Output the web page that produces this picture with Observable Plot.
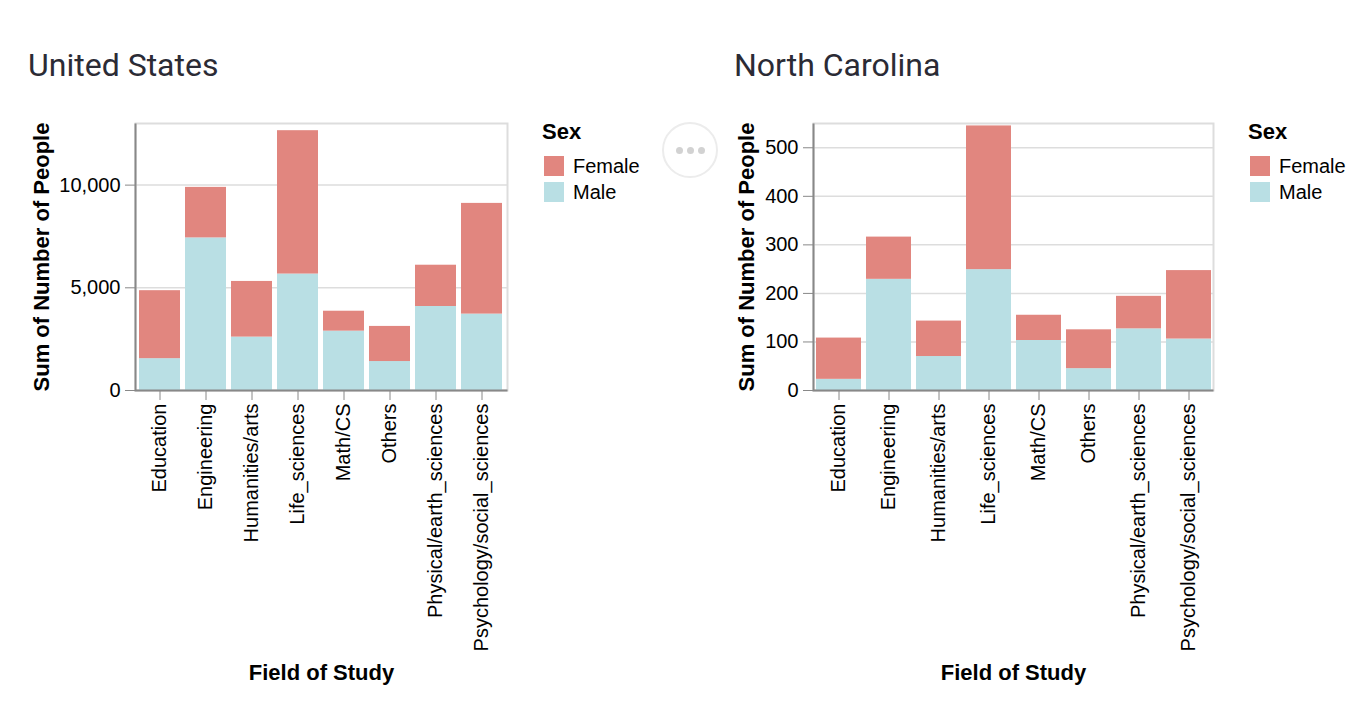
<!DOCTYPE html>
<html>
<head>
<meta charset="utf-8">
<script src="https://cdn.jsdelivr.net/npm/d3@7"></script>
<script src="https://cdn.jsdelivr.net/npm/@observablehq/plot@0.6"></script>
<style>
  html, body { margin: 0; padding: 0; background: #fff; }
  #root { position: relative; width: 1364px; height: 718px; overflow: hidden; }
  .title { position: absolute; font-family: Roboto, "Noto Sans", sans-serif; font-size: 32px; line-height: 1; color: #2b2b35; white-space: nowrap; }
  .chart { position: absolute; top: 100px; }
  .legend { position: absolute; top: 121px; font-family: "Liberation Sans", Arial, Helvetica, sans-serif; color: #000; }
  .legend .ltitle { font-weight: bold; font-size: 22px; line-height: 1; height: 35px; }
  .legend .row { display: flex; align-items: flex-start; height: 26px; margin-left: 2px; }
  .legend .sw { width: 20px; height: 20px; }
  .legend .lab { font-size: 20px; line-height: 20px; margin-left: 9px; }
  #more { position: absolute; left: 662px; top: 122px; width: 52px; height: 52px; border: 2px solid #ececec; border-radius: 50%; display: flex; align-items: center; justify-content: center; gap: 4px; }
  #more span { width: 7px; height: 7px; border-radius: 50%; background: #d2d2d2; display: block; }
</style>
</head>
<body>
<div id="root"></div>
<script>
// ---- data ----
const fields = ["Education", "Engineering", "Humanities/arts", "Life_sciences", "Math/CS", "Others", "Physical/earth_sciences", "Psychology/social_sciences"];
const sexes = ["Female", "Male"];
const sexColors = ["#e1867f", "#b9dfe4"];

const usMale   = [1550, 7430, 2600, 5670, 2890, 1410, 4090, 3720];
const usFemale = [3310, 2460, 2710, 6980,  970, 1710, 2010, 5390];
const ncMale   = [23, 229, 70, 249, 103, 45, 127, 106];
const ncFemale = [85,  87, 73, 296,  52, 80,  67, 141];

const usTicks = [0, 5000, 10000];
const ncTicks = [0, 100, 200, 300, 400, 500];
const usDomain = [0, 13000];
const ncDomain = [0, 550];

const chartTitles = ["United States", "North Carolina"];
const xTitle = "Field of Study";
const yTitle = "Sum of Number of People";
const legendTitle = "Sex";

// ---- build ----
function rows(male, female) {
  const out = [];
  fields.forEach((f, i) => out.push({field: f, sex: "Male", value: male[i]}));
  fields.forEach((f, i) => out.push({field: f, sex: "Female", value: female[i]}));
  return out;
}

const root = document.getElementById("root");
const font = '"Liberation Sans", Arial, Helvetica, sans-serif';

function makeChart({left, width, marginLeft, marginRight, data, ticks, domain, title, titleLeft, legendLeft, yLabelOffset}) {
  const height = 600, marginTop = 23, marginBottom = 310;
  const w = width - marginLeft - marginRight;
  const h = height - marginTop - marginBottom;
  const svg = Plot.plot({
    width, height, marginTop, marginBottom, marginLeft, marginRight,
    style: {fontFamily: font, fontSize: "20px", color: "#000", background: "transparent", overflow: "visible"},
    x: {domain: fields, paddingInner: 0.1, paddingOuter: 0.05, axis: null},
    y: {domain, axis: null},
    color: {domain: sexes, range: sexColors},
    marks: [
      Plot.frame({stroke: "#dddddd", strokeWidth: 2}),
      Plot.gridY(ticks, {stroke: "#dddddd", strokeOpacity: 1, strokeWidth: 1.5}),
      Plot.barY(data, Plot.stackY({x: "field", y: "value", fill: "sex", order: ["Male", "Female"]})),
      Plot.frame({stroke: "#888888", strokeWidth: 2, strokeDasharray: `0 ${w + h} ${w + h + 4}`}),
      Plot.axisY(ticks, {tickSize: 10, tickPadding: 5, tickFormat: d3.format(","), stroke: "#888888", fontSize: 20, label: null}),
      Plot.axisX({tickSize: 10, tickPadding: 3, tickRotate: -90, stroke: "#888888", fontSize: 20, label: null}),
      Plot.text([yTitle], {frameAnchor: "left", textAnchor: "middle", rotate: -90, dx: -yLabelOffset, lineAnchor: "top", fontWeight: "bold", fontSize: 22, fill: "#000"}),
      Plot.text([xTitle], {frameAnchor: "bottom", textAnchor: "middle", dy: 289, lineAnchor: "bottom", fontWeight: "bold", fontSize: 22, fill: "#000"})
    ]
  });
  const holder = document.createElement("div");
  holder.className = "chart";
  holder.style.left = left + "px";
  holder.appendChild(svg);
  root.appendChild(holder);

  const t = document.createElement("div");
  t.className = "title";
  t.style.left = titleLeft + "px";
  t.style.top = "49px";
  t.textContent = title;
  root.appendChild(t);

  const lg = document.createElement("div");
  lg.className = "legend";
  lg.style.left = legendLeft + "px";
  const lt = document.createElement("div");
  lt.className = "ltitle";
  lt.textContent = legendTitle;
  lg.appendChild(lt);
  sexes.forEach((s, i) => {
    const r = document.createElement("div");
    r.className = "row";
    const sw = document.createElement("div");
    sw.className = "sw";
    sw.style.background = sexColors[i];
    const lab = document.createElement("div");
    lab.className = "lab";
    lab.textContent = s;
    r.appendChild(sw); r.appendChild(lab);
    lg.appendChild(r);
  });
  root.appendChild(lg);
}

makeChart({left: 0, width: 520, marginLeft: 135, marginRight: 13, data: rows(usMale, usFemale), ticks: usTicks, domain: usDomain, title: chartTitles[0], titleLeft: 28, legendLeft: 542, yLabelOffset: 102});
makeChart({left: 700, width: 530, marginLeft: 113, marginRight: 17, data: rows(ncMale, ncFemale), ticks: ncTicks, domain: ncDomain, title: chartTitles[1], titleLeft: 734, legendLeft: 1248, yLabelOffset: 75});

const more = document.createElement("div");
more.id = "more";
for (let i = 0; i < 3; i++) more.appendChild(document.createElement("span"));
root.appendChild(more);
</script>
</body>
</html>
